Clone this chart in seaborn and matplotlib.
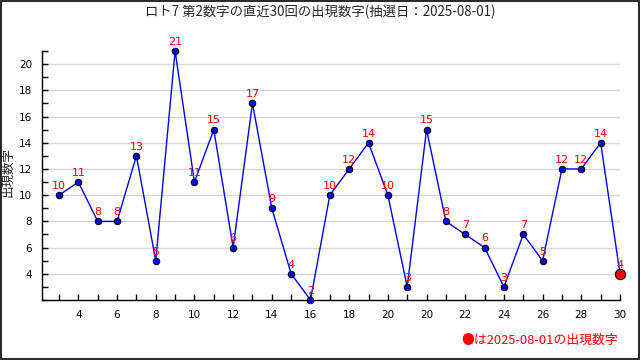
import matplotlib.pyplot as plt
import matplotlib.patches as patches
import numpy as np
import pandas as pd
import seaborn as sns

# Values of the 2nd number in the last 30 draws (oldest -> newest)
draw_values = [10, 11, 8, 8, 13, 5, 21, 11, 15, 6, 17, 9, 4, 2, 10,
               12, 14, 10, 3, 15, 8, 7, 6, 3, 7, 5, 12, 12, 14, 4]
# x tick labels as printed on the original (every second draw)
xtick_labels = ['4', '6', '8', '10', '12', '14', '16', '18', '20', '20',
                '22', '24', '26', '28', '30']
ytick_values = [4, 6, 8, 10, 12, 14, 16, 18, 20]
title = 'ロト7 第2数字の直近30回の出現数字(抽選日：2025-08-01)'
note = '●は2025-08-01の出現数字'

df = pd.DataFrame({'idx': np.arange(len(draw_values)), 'value': draw_values})

sns.set_style('white')
plt.rcParams['font.family'] = ['Noto Sans CJK JP', 'DejaVu Sans']

fig = plt.figure(figsize=(6.4, 3.6), dpi=100)
ax = fig.add_axes([42 / 640, 1 - 300 / 360, 578 / 640, 249 / 360])

# grid lines (only at labelled y values)
for v in ytick_values:
    ax.plot([-0.88, 29], [v, v], color='#d8d8d8', lw=1, zorder=0)

sns.lineplot(data=df, x='idx', y='value', color='blue', lw=1, ax=ax,
             marker='o', markersize=4.6, markerfacecolor='blue',
             markeredgecolor='black', markeredgewidth=0.8, clip_on=False, zorder=3)
last = df.iloc[[-1]]
sns.scatterplot(data=last, x='idx', y='value', color='red', s=55,
                edgecolor='black', linewidth=0.8, ax=ax, clip_on=False, zorder=4)

for _, row in df.iterrows():
    ax.annotate(str(row['value']), (row['idx'], row['value']), xytext=(0, 3),
                textcoords='offset points', ha='center', va='bottom',
                color='red', fontsize=8, family='DejaVu Sans', zorder=5)

ax.set_xlim(-0.88, 29)
ax.set_ylim(2, 21)
ax.set_xticks(np.arange(1, 30, 2))
ax.set_xticklabels(xtick_labels)
ax.set_xticks(np.arange(0, 30, 1), minor=True)
ax.set_yticks(ytick_values)
ax.set_yticks(np.arange(2, 22, 1), minor=True)
ax.tick_params(axis='both', which='both', direction='in', length=4, width=1,
               labelsize=7.5, colors='black')
ax.tick_params(axis='x', which='both', pad=7)
ax.tick_params(axis='y', which='both', pad=7)
ax.tick_params(which='both', bottom=True, left=True)
for lab in ax.get_xticklabels() + ax.get_yticklabels():
    lab.set_family('DejaVu Sans')
ax.set_xlabel('')
ax.set_ylabel('')
for side in ['top', 'right']:
    ax.spines[side].set_visible(False)
for side in ['left', 'bottom']:
    ax.spines[side].set_color('black')
    ax.spines[side].set_linewidth(1)

fig.text(0.5, 1 - 12 / 360, title, ha='center', va='center', fontsize=9.6)
fig.text(8 / 640, 1 - 172 / 360, '出現数字', rotation=90, ha='center',
         va='center', fontsize=9)
fig.text(618 / 640, 1 - 340 / 360, note, ha='right', va='center',
         fontsize=9.3, color='red')

fig.add_artist(patches.Rectangle((0.001, 0.002), 0.997, 0.996, transform=fig.transFigure,
                                 fill=False, edgecolor='black', lw=1.2))

fig.savefig('out.png', dpi=100)
